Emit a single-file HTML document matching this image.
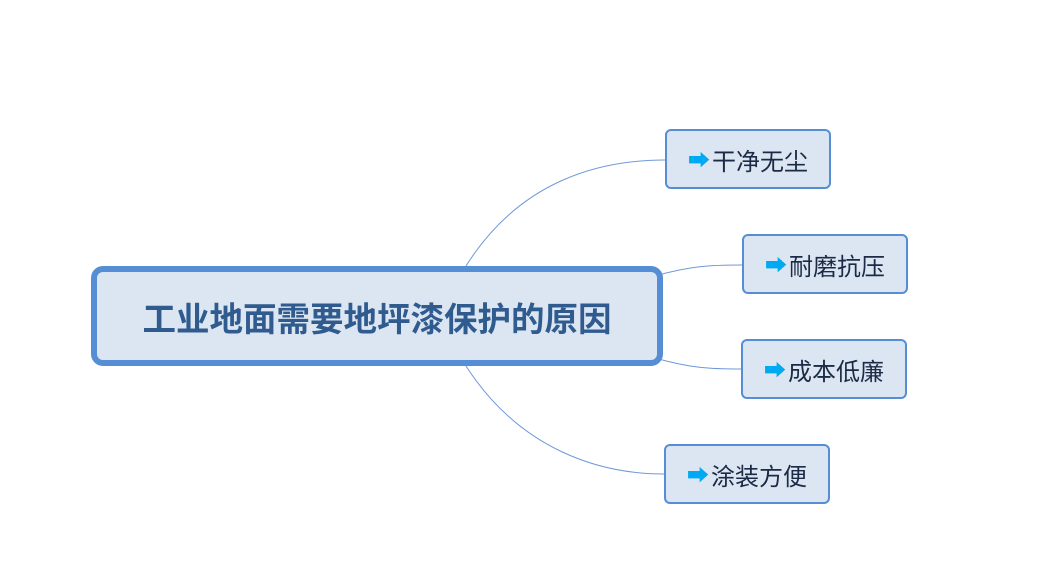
<!DOCTYPE html>
<html><head><meta charset="utf-8"><style>
body{margin:0;width:1048px;height:580px;background:#fff;position:relative;overflow:hidden;font-family:"Liberation Sans","Noto Sans CJK SC",sans-serif}
.root{position:absolute;left:91px;top:266px;width:560px;height:88px;border:6px solid #558ed5;border-radius:12px;background:#dce6f2;color:#2f5b8e;font-weight:bold;font-size:33.5px;display:flex;align-items:center;justify-content:center}
.n{position:absolute;width:162px;height:56px;border:2px solid #558ed5;border-radius:6px;background:#dce6f2;color:#1b2a45;font-size:24px;display:flex;align-items:center;justify-content:center}
.a{color:#00aaf2;font-size:22px;margin-right:2px}
svg{position:absolute;left:0;top:0}
</style></head><body>
<svg width="1048" height="580"><g fill="none" stroke="#6f9ad8" stroke-width="1">
<path d="M466 266 C520 180 600 160 665 160"/>
<path d="M655 276 C690 266 710 265 742 265"/>
<path d="M655 358 C690 368 710 369 741 369"/>
<path d="M466 366 C520 450 600 474 664 474"/>
</g></svg>
<div class="root">工业地面需要地坪漆保护的原因</div>
<div class="n" style="left:665px;top:129px"><span class="a">➡</span>干净无尘</div>
<div class="n" style="left:742px;top:234px"><span class="a">➡</span>耐磨抗压</div>
<div class="n" style="left:741px;top:339px"><span class="a">➡</span>成本低廉</div>
<div class="n" style="left:664px;top:444px"><span class="a">➡</span>涂装方便</div>
</body></html>
